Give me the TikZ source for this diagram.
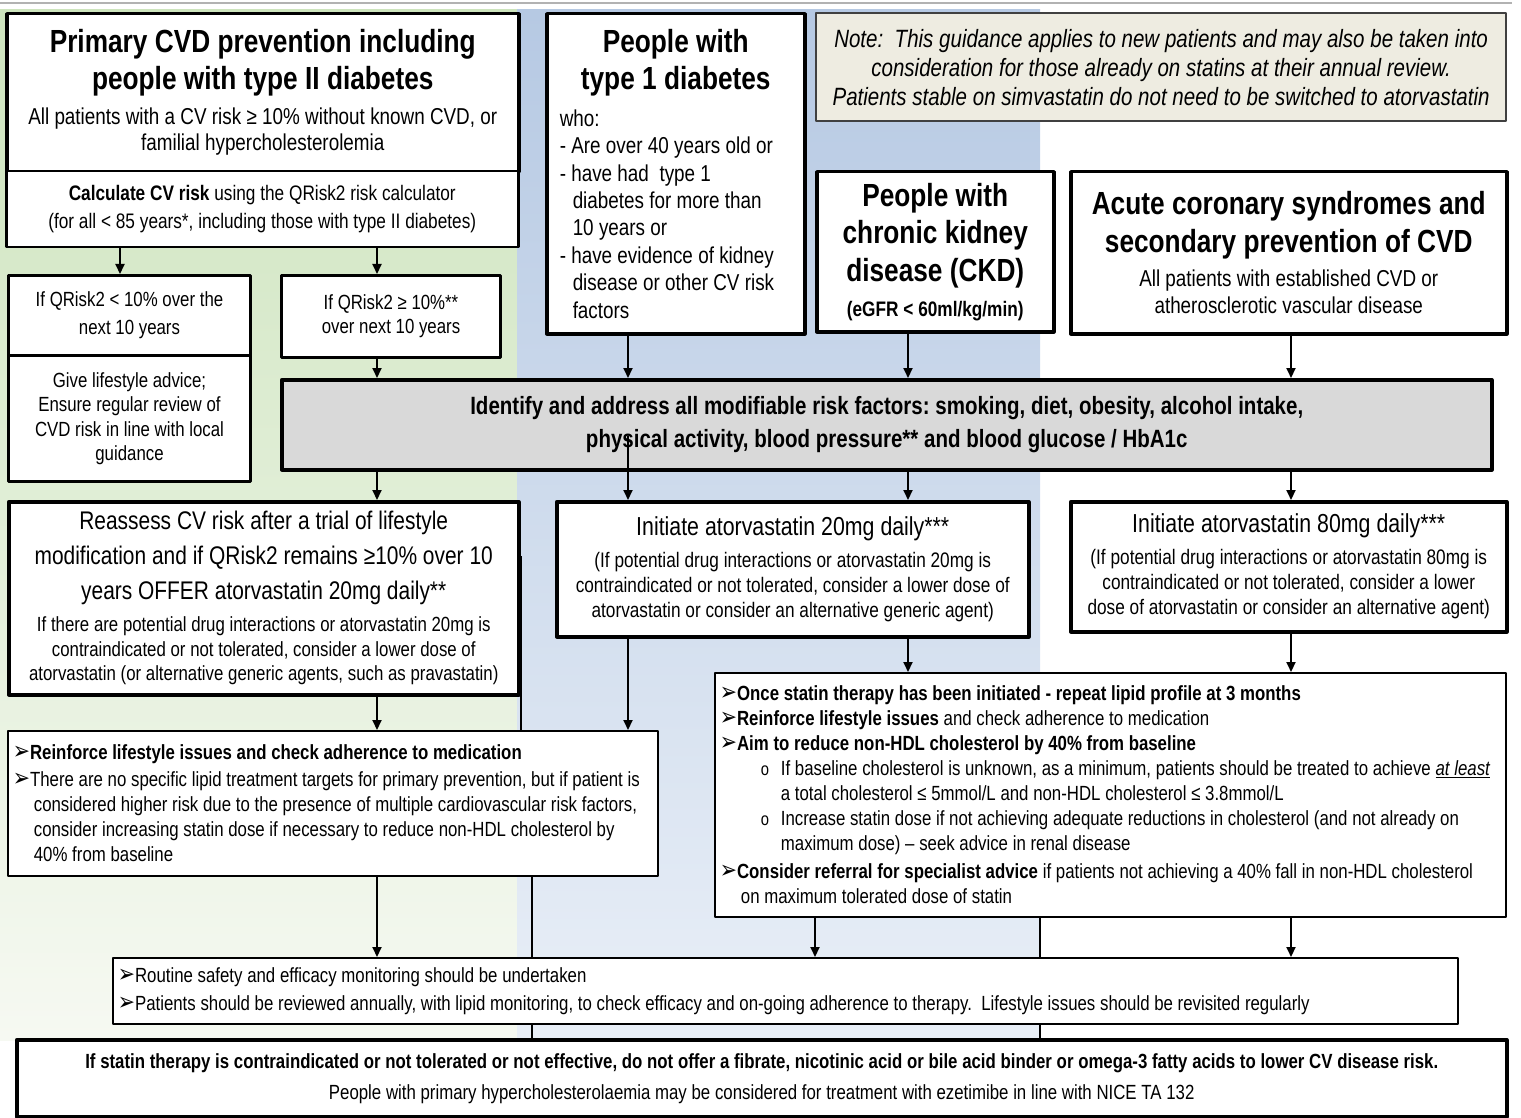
\documentclass[tikz,border=0pt]{standalone}
\usepackage{fontspec}
\setmainfont[FakeStretch=0.82]{Liberation Sans}
\newfontfamily\symfont[FakeStretch=0.82]{DejaVu Sans}
\usepackage{tikz}
\usetikzlibrary{arrows.meta}
\usetikzlibrary{calc}
\setlength{\parindent}{0pt}
\frenchspacing
\definecolor{greentop}{RGB}{205,228,189}
\definecolor{greenbot}{RGB}{246,249,242}
\definecolor{bluetop}{RGB}{182,201,227}
\definecolor{bluebot}{RGB}{233,239,247}
\definecolor{notefill}{RGB}{238,236,225}
\definecolor{notegrey}{RGB}{64,64,64}
\definecolor{idgrey}{RGB}{217,217,217}
\newcommand{\setfs}[2]{\fontsize{#1}{#2}\selectfont\spaceskip=0.23em plus 0.01em minus 0.02em\xspaceskip=0pt\relax}
\newcommand{\arrbul}{{\symfont\fontsize{25}{25}\selectfont ➢}}
\newcommand{\subbul}{\hspace*{41pt}\makebox[20pt][l]{\fontsize{18}{18}\selectfont o}}

\begin{document}
\begin{tikzpicture}[x=1pt, y=-1pt, line join=round,
		box/.style={draw=black, fill=white, anchor=north west, inner sep=5pt, align=flush center},
		heavy/.style={box, line width=3.5pt},
		light/.style={box, line width=1.8pt},
		flow/.style={line width=2pt, -{Triangle[length=10pt,width=9pt]}},
		joinline/.style={line width=2pt}]
	\useasboundingbox (0,0) rectangle (1521,1118);
	
	% Coloured columns behind the chart
	\shade[top color=greentop, bottom color=greenbot] (0,10) rectangle (517,1040);
	\shade[top color=bluetop, bottom color=bluebot] (517,10) rectangle (1040,1040);
	\draw[gray!60, line width=1.5pt] (0,3) -- (1512,3);
	
	% Entry boxes
	\node[heavy, minimum width=512, minimum height=158, text width=502pt] (prim) at (5,12) {%
		{\setfs{32}{37}\bfseries Primary CVD prevention including\\ people with type II diabetes\par}%
		\vspace{9pt}%
		{\setfs{23}{26}All patients with a CV risk ≥ 10\% without known CVD, or\\ familial hypercholesterolemia\par}};
	\node[light, line width=2.5pt, minimum width=512, minimum height=76, text width=502pt] (calc) at (5,170) {%
		\setfs{21}{28}\textbf{Calculate CV risk} using the QRisk2 risk calculator\\ (for all < 85 years*, including those with type II diabetes)\par};
	\node[heavy, minimum width=258, minimum height=320, text width=232pt, inner xsep=13pt] (type1) at (545,12) {%
		{\centering\setfs{32}{37}\bfseries People with\\ type 1 diabetes\par}%
		\vspace{9.6pt}%
		{\raggedright\setfs{23}{27.4}who:\par
			- Are over 40 years old or\par
			\hangindent=13pt\hangafter=1 - have had\ \ type 1\linebreak diabetes for more than\linebreak 10 years or\par
			\hangindent=13pt\hangafter=1 - have evidence of kidney\linebreak disease or other CV risk\linebreak factors\par}};
	\node[box, draw=notegrey, fill=notefill, line width=2.2pt, minimum width=690, minimum height=108, text width=680pt] (note) at (815,12) {%
		\setfs{25}{29}\itshape Note:\ \ This guidance applies to new patients and may also be taken into\\ consideration for those already on statins at their annual review.\\ Patients stable on simvastatin do not need to be switched to atorvastatin\par};
	\node[heavy, minimum width=237, minimum height=160, text width=227pt] (ckd) at (815,170) {%
		{\setfs{32}{37.5}\bfseries People with\\ chronic kidney\\ disease (CKD)\par}%
		\vspace{10pt}%
		{\setfs{21}{25}\bfseries (eGFR < 60ml/kg/min)\par}};
	\node[heavy, minimum width=436, minimum height=162, text width=426pt] (acs) at (1069,170) {%
		{\setfs{32}{38}\bfseries Acute coronary syndromes and\\ secondary prevention of CVD\par}%
		\vspace{7pt}%
		{\setfs{23}{27}All patients with established CVD or\\ atherosclerotic vascular disease\par}};
	
	% QRisk2 split
	\node[heavy, line width=3pt, minimum width=242, minimum height=80, text width=232pt] (qlow) at (7,274) {%
		\setfs{20.5}{28}If QRisk2 < 10\% over the\\ next 10 years\par};
	\node[heavy, line width=3pt, minimum width=242, minimum height=126, text width=232pt] (advice) at (7,354) {%
		\setfs{20.5}{24.5}Give lifestyle advice;\\ Ensure regular review of\\ CVD risk in line with local\\ guidance\par};
	\node[heavy, line width=3pt, minimum width=219, minimum height=82, text width=209pt] (qhigh) at (280,274) {%
		\setfs{20.5}{24}If QRisk2 ≥ 10\%**\\ over next 10 years\par};
	
	% Shared risk factor box
	\node[heavy, fill=idgrey, minimum width=1210, minimum height=90, text width=1200pt] (ident) at (280,378) {%
		\setfs{25}{33}\bfseries Identify and address all modifiable risk factors: smoking, diet, obesity, alcohol intake,\\ physical activity, blood pressure** and blood glucose / HbA1c\par};
	
	% Statin starting doses
	\node[heavy, minimum width=510, minimum height=193, text width=500pt] (reass) at (7,500) {%
		{\setfs{25.5}{35}Reassess CV risk after a trial of lifestyle\\ modification and if QRisk2 remains ≥10\% over 10\\ years OFFER atorvastatin 20mg daily**\par}%
		\vspace{7.5pt}%
		{\setfs{20.5}{24.5}If there are potential drug interactions or atorvastatin 20mg is\\ contraindicated or not tolerated, consider a lower dose of\\ atorvastatin (or alternative generic agents, such as pravastatin)\par}};
	\node[heavy, minimum width=472, minimum height=135, text width=462pt] (init20) at (555,500) {%
		{\setfs{26}{32}Initiate atorvastatin 20mg daily***\par}%
		\vspace{7pt}%
		{\setfs{21}{25}(If potential drug interactions or atorvastatin 20mg is\\ contraindicated or not tolerated, consider a lower dose of\\ atorvastatin or consider an alternative generic agent)\par}};
	\node[heavy, minimum width=436, minimum height=130, text width=426pt] (init80) at (1069,500) {%
		{\setfs{26}{32}Initiate atorvastatin 80mg daily***\par}%
		\vspace{7pt}%
		{\setfs{21}{25}(If potential drug interactions or atorvastatin 80mg is\\ contraindicated or not tolerated, consider a lower\\ dose of atorvastatin or consider an alternative agent)\par}};
	
	% Follow-up boxes
	\node[light, align=flush left, minimum width=791, minimum height=244, text width=781pt] (once) at (714,672) {%
		\setfs{20.5}{25}%
		\arrbul\textbf{Once statin therapy has been initiated - repeat lipid profile at 3 months}\par
		\arrbul\textbf{Reinforce lifestyle issues} and check adherence to medication\par
		\arrbul\textbf{Aim to reduce non-HDL cholesterol by 40\% from baseline}\par
		\hangindent=61pt\hangafter=1\subbul If baseline cholesterol is unknown, as a minimum, patients should be treated to achieve \underline{\textit{at least}}\linebreak a total cholesterol ≤ 5mmol/L and non-HDL cholesterol ≤ 3.8mmol/L\par
		\hangindent=61pt\hangafter=1\subbul Increase statin dose if not achieving adequate reductions in cholesterol (and not already on\linebreak maximum dose) – seek advice in renal disease\par
		\vspace{3pt}%
		\hangindent=21pt\hangafter=1\arrbul\textbf{Consider referral for specialist advice} if patients not achieving a 40\% fall in non-HDL cholesterol\linebreak on maximum tolerated dose of statin\par};
	\node[light, align=flush left, minimum width=650, minimum height=145, text width=640pt] (reinf) at (7,730) {%
		\setfs{20.5}{25}%
		\arrbul\textbf{Reinforce lifestyle issues and check adherence to medication}\par
		\vspace{2pt}%
		\hangindent=21pt\hangafter=1\arrbul There are no specific lipid treatment targets for primary prevention, but if patient is\linebreak considered higher risk due to the presence of multiple cardiovascular risk factors,\linebreak consider increasing statin dose if necessary to reduce non-HDL cholesterol by\linebreak 40\% from baseline\par};
	\node[light, align=flush left, minimum width=1345, minimum height=66, text width=1335pt] (routine) at (112,957) {%
		\setfs{20.5}{28}%
		\arrbul Routine safety and efficacy monitoring should be undertaken\par
		\arrbul Patients should be reviewed annually, with lipid monitoring, to check efficacy and on-going adherence to therapy.\ \ Lifestyle issues should be revisited regularly\par};
	\node[heavy, minimum width=1490, minimum height=77, text width=1480pt] (bottom) at (15,1038) {%
		\setfs{20.5}{31}\textbf{If statin therapy is contraindicated or not tolerated or not effective, do not offer a fibrate, nicotinic acid or bile acid binder or omega-3 fatty acids to lower CV disease risk.}\\ People with primary hypercholesterolaemia may be considered for treatment with ezetimibe in line with NICE TA 132\par};
	
	% Columns of the connectors
	\coordinate (colA) at (120,0);
	\coordinate (colB) at (377,0);
	\coordinate (colC) at (628,0);
	\coordinate (colD) at (908,0);
	\coordinate (colE) at (1291,0);
	\coordinate (colF) at (815,0);
	\coordinate (sepL) at (532,0);
	\coordinate (sepR) at (1040,0);
	\coordinate (jog) at (521,556);
	
	% Connectors
	\draw[flow] (calc.south -| colA) -- (qlow.north -| colA);
	\draw[flow] (calc.south -| colB) -- (qhigh.north -| colB);
	\draw[flow] (qhigh.south -| colB) -- (ident.north -| colB);
	\draw[flow] (type1.south -| colC) -- (ident.north -| colC);
	\draw[flow] (ckd.south -| colD) -- (ident.north -| colD);
	\draw[flow] (acs.south -| colE) -- (ident.north -| colE);
	\draw[flow] (ident.south -| colB) -- (reass.north -| colB);
	\draw[flow] ($(ident.south -| colC)+(0,-36)$) -- (init20.north -| colC);
	\draw[flow] (ident.south -| colD) -- (init20.north -| colD);
	\draw[flow] (ident.south -| colE) -- (init80.north -| colE);
	\draw[flow] (reass.south -| colB) -- (reinf.north -| colB);
	\draw[flow] (init20.south -| colC) -- (reinf.north -| colC);
	\draw[flow] (init20.south -| colD) -- (once.north -| colD);
	\draw[flow] (init80.south -| colE) -- (once.north -| colE);
	\draw[joinline] (jog) -- (reinf.north -| jog);
	\draw[flow] (reinf.south -| colB) -- (routine.north -| colB);
	\draw[joinline] (reinf.south -| sepL) -- (routine.north -| sepL);
	\draw[flow] (once.south -| colF) -- (routine.north -| colF);
	\draw[joinline] (once.south -| sepR) -- (routine.north -| sepR);
	\draw[flow] (once.south -| colE) -- (routine.north -| colE);
	\draw[joinline] (routine.south -| sepL) -- (bottom.north -| sepL);
	\draw[joinline] (routine.south -| sepR) -- (bottom.north -| sepR);
\end{tikzpicture}
\end{document}
